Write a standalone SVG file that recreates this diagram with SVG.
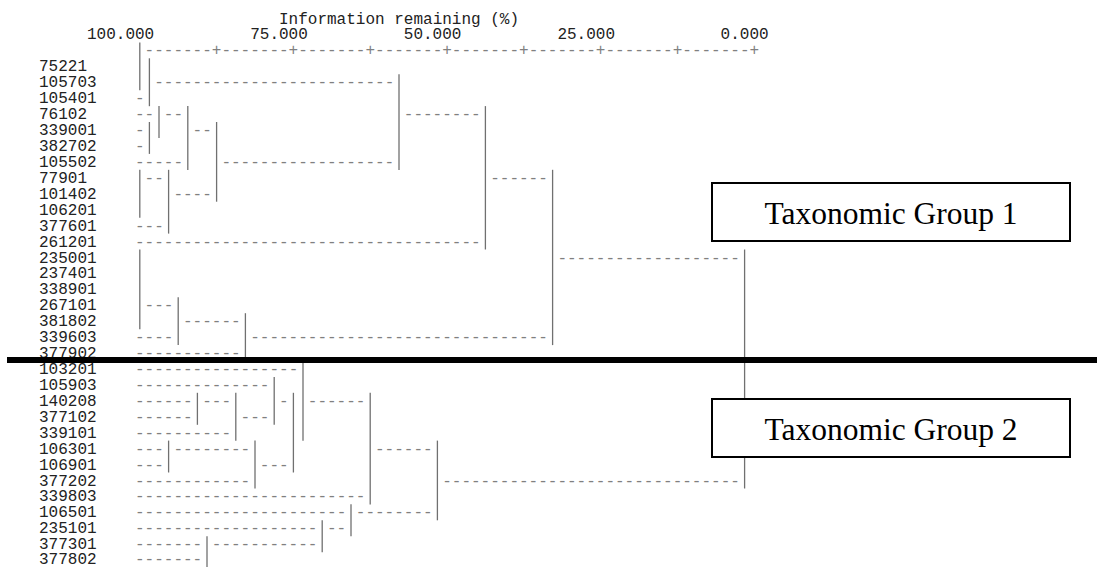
<svg xmlns="http://www.w3.org/2000/svg" width="1097" height="567" viewBox="0 0 1097 567">
<style>
.t{font-family:"Liberation Mono","Courier New",monospace;font-size:16px;fill:#222;white-space:pre}
.d{font-family:"Liberation Mono","Courier New",monospace;font-size:16px;fill:#808080;white-space:pre}
.b{stroke:#707070;stroke-width:1.3;fill:none}
.box{fill:#fff;stroke:#000;stroke-width:2}
.bt{font-family:"Liberation Serif","Times New Roman",serif;font-size:31.5px;fill:#000;text-anchor:middle}
</style>
<rect width="1097" height="567" fill="#fff"/>
<g id="axis">
<text class="t" x="279" y="23.5">Information remaining (%)</text>
<text class="t" x="87" y="39.4">100.000</text>
<text class="t" x="250.2" y="39.4">75.000</text>
<text class="t" x="403.8" y="39.4">50.000</text>
<text class="t" x="557.4" y="39.4">25.000</text>
<text class="t" x="720.6" y="39.4">0.000</text>
<text class="d" x="144.6" y="55.4">-------+-------+-------+-------+-------+-------+-------+-------+</text>
</g>
<g id="connectors">
<line class="b" x1="139.8" y1="42.4" x2="139.8" y2="90.2"/>
<line class="b" x1="149.4" y1="58.3" x2="149.4" y2="106.2"/>
<line class="b" x1="159" y1="106.1" x2="159" y2="138"/>
<line class="b" x1="149.4" y1="122" x2="149.4" y2="153.9"/>
<line class="b" x1="187.8" y1="106.1" x2="187.8" y2="169.9"/>
<line class="b" x1="216.6" y1="122" x2="216.6" y2="201.7"/>
<line class="b" x1="399" y1="74.2" x2="399" y2="169.9"/>
<line class="b" x1="485.4" y1="106.1" x2="485.4" y2="249.5"/>
<line class="b" x1="139.8" y1="169.8" x2="139.8" y2="217.7"/>
<line class="b" x1="168.6" y1="169.8" x2="168.6" y2="233.6"/>
<line class="b" x1="552.6" y1="169.8" x2="552.6" y2="345.1"/>
<line class="b" x1="139.8" y1="249.5" x2="139.8" y2="329.2"/>
<line class="b" x1="178.2" y1="297.2" x2="178.2" y2="345.1"/>
<line class="b" x1="245.4" y1="313.2" x2="245.4" y2="361"/>
<line class="b" x1="744.6" y1="249.5" x2="744.6" y2="488.5"/>
<line class="b" x1="303" y1="361" x2="303" y2="440.7"/>
<line class="b" x1="274.2" y1="376.9" x2="274.2" y2="424.8"/>
<line class="b" x1="197.4" y1="392.8" x2="197.4" y2="424.8"/>
<line class="b" x1="235.8" y1="392.8" x2="235.8" y2="440.7"/>
<line class="b" x1="293.4" y1="392.8" x2="293.4" y2="472.5"/>
<line class="b" x1="370.2" y1="392.8" x2="370.2" y2="504.4"/>
<line class="b" x1="168.6" y1="440.6" x2="168.6" y2="472.5"/>
<line class="b" x1="255" y1="440.6" x2="255" y2="488.5"/>
<line class="b" x1="437.4" y1="440.6" x2="437.4" y2="520.3"/>
<line class="b" x1="351" y1="504.3" x2="351" y2="536.3"/>
<line class="b" x1="322.2" y1="520.3" x2="322.2" y2="552.2"/>
<line class="b" x1="207" y1="536.2" x2="207" y2="567"/>
<text class="d" x="154.2" y="87.2">-------------------------</text>
<text class="d" x="135" y="103.2">-</text>
<text class="d" x="135" y="119.1">--</text>
<text class="d" x="163.8" y="119.1">--</text>
<text class="d" x="403.8" y="119.1">--------</text>
<text class="d" x="135" y="135">-</text>
<text class="d" x="192.6" y="135">--</text>
<text class="d" x="135" y="150.9">-</text>
<text class="d" x="135" y="166.9">-----</text>
<text class="d" x="221.4" y="166.9">------------------</text>
<text class="d" x="144.6" y="182.8">--</text>
<text class="d" x="490.2" y="182.8">------</text>
<text class="d" x="173.4" y="198.7">----</text>
<text class="d" x="135" y="230.6">---</text>
<text class="d" x="135" y="246.5">------------------------------------</text>
<text class="d" x="557.4" y="262.5">-------------------</text>
<text class="d" x="144.6" y="310.2">---</text>
<text class="d" x="183" y="326.2">------</text>
<text class="d" x="135" y="342.1">----</text>
<text class="d" x="250.2" y="342.1">-------------------------------</text>
<text class="d" x="135" y="358">-----------</text>
<text class="d" x="135" y="374">-----------------</text>
<text class="d" x="135" y="389.9">--------------</text>
<text class="d" x="135" y="405.8">------</text>
<text class="d" x="202.2" y="405.8">---</text>
<text class="d" x="279" y="405.8">-</text>
<text class="d" x="307.8" y="405.8">------</text>
<text class="d" x="135" y="421.8">------</text>
<text class="d" x="240.6" y="421.8">---</text>
<text class="d" x="135" y="437.7">----------</text>
<text class="d" x="135" y="453.6">---</text>
<text class="d" x="173.4" y="453.6">--------</text>
<text class="d" x="375" y="453.6">------</text>
<text class="d" x="135" y="469.5">---</text>
<text class="d" x="259.8" y="469.5">---</text>
<text class="d" x="135" y="485.5">------------</text>
<text class="d" x="442.2" y="485.5">-------------------------------</text>
<text class="d" x="135" y="501.4">------------------------</text>
<text class="d" x="135" y="517.3">----------------------</text>
<text class="d" x="355.8" y="517.3">--------</text>
<text class="d" x="135" y="533.3">-------------------</text>
<text class="d" x="327" y="533.3">--</text>
<text class="d" x="135" y="549.2">-------</text>
<text class="d" x="211.8" y="549.2">-----------</text>
<text class="d" x="135" y="563.5">-------</text>
</g>
<g id="leaf-75221"><text class="t" x="39" y="71.3">75221</text></g>
<g id="leaf-105703"><text class="t" x="39" y="87.2">105703</text></g>
<g id="leaf-105401"><text class="t" x="39" y="103.2">105401</text></g>
<g id="leaf-76102"><text class="t" x="39" y="119.1">76102</text></g>
<g id="leaf-339001"><text class="t" x="39" y="135">339001</text></g>
<g id="leaf-382702"><text class="t" x="39" y="150.9">382702</text></g>
<g id="leaf-105502"><text class="t" x="39" y="166.9">105502</text></g>
<g id="leaf-77901"><text class="t" x="39" y="182.8">77901</text></g>
<g id="leaf-101402"><text class="t" x="39" y="198.7">101402</text></g>
<g id="leaf-106201"><text class="t" x="39" y="214.7">106201</text></g>
<g id="leaf-377601"><text class="t" x="39" y="230.6">377601</text></g>
<g id="leaf-261201"><text class="t" x="39" y="246.5">261201</text></g>
<g id="leaf-235001"><text class="t" x="39" y="262.5">235001</text></g>
<g id="leaf-237401"><text class="t" x="39" y="278.4">237401</text></g>
<g id="leaf-338901"><text class="t" x="39" y="294.3">338901</text></g>
<g id="leaf-267101"><text class="t" x="39" y="310.2">267101</text></g>
<g id="leaf-381802"><text class="t" x="39" y="326.2">381802</text></g>
<g id="leaf-339603"><text class="t" x="39" y="342.1">339603</text></g>
<g id="leaf-377902"><text class="t" x="39" y="358">377902</text></g>
<g id="leaf-103201"><text class="t" x="39" y="374">103201</text></g>
<g id="leaf-105903"><text class="t" x="39" y="389.9">105903</text></g>
<g id="leaf-140208"><text class="t" x="39" y="405.8">140208</text></g>
<g id="leaf-377102"><text class="t" x="39" y="421.8">377102</text></g>
<g id="leaf-339101"><text class="t" x="39" y="437.7">339101</text></g>
<g id="leaf-106301"><text class="t" x="39" y="453.6">106301</text></g>
<g id="leaf-106901"><text class="t" x="39" y="469.5">106901</text></g>
<g id="leaf-377202"><text class="t" x="39" y="485.5">377202</text></g>
<g id="leaf-339803"><text class="t" x="39" y="501.4">339803</text></g>
<g id="leaf-106501"><text class="t" x="39" y="517.3">106501</text></g>
<g id="leaf-235101"><text class="t" x="39" y="533.3">235101</text></g>
<g id="leaf-377301"><text class="t" x="39" y="549.2">377301</text></g>
<g id="leaf-377802"><text class="t" x="39" y="563.5">377802</text></g>
<g id="divider"><rect x="7" y="357" width="1090" height="6" fill="#000"/></g>
<g id="group1">
<rect class="box" x="712" y="183" width="358" height="58"/>
<text class="bt" x="891" y="224">Taxonomic Group 1</text>
</g>
<g id="group2">
<rect class="box" x="712" y="399" width="358" height="58"/>
<text class="bt" x="891" y="439.5">Taxonomic Group 2</text>
</g>
</svg>
